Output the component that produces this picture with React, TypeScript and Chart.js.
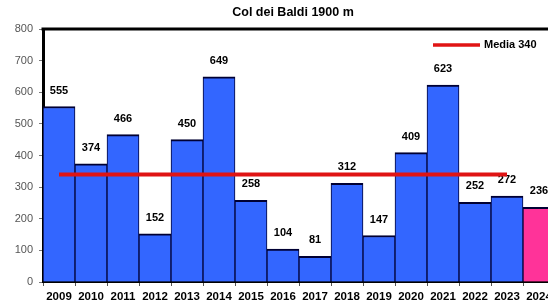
import React, { useEffect, useRef } from "react";
import { Chart, registerables } from "chart.js";

Chart.register(...registerables);

const years = ["2009", "2010", "2011", "2012", "2013", "2014", "2015", "2016", "2017", "2018", "2019", "2020", "2021", "2022", "2023", "2024"];
const snowValues = [555, 374, 466, 152, 450, 649, 258, 104, 81, 312, 147, 409, 623, 252, 272, 236];
const mediaValues = [340, 340, 340, 340, 340, 340, 340, 340, 340, 340, 340, 340, 340, 340, 340, null];
const mediaLabel = "Media 340";
const titleText = "Col dei Baldi 1900 m";

const BLUE = "#3366FF";
const PINK = "#FF3399";
const RED = "#E01414";
const FONT = '"Liberation Sans", Arial, sans-serif';

const barColors = snowValues.map((_, i) => (i === snowValues.length - 1 ? PINK : BLUE));

const valueLabels = {
  id: "valueLabels",
  afterDatasetDraw(chart: any, args: any) {
    if (args.index !== 0) return;
    const ctx = chart.ctx;
    ctx.save();
    ctx.font = `bold 11px ${FONT}`;
    ctx.fillStyle = "#000";
    ctx.textAlign = "center";
    ctx.textBaseline = "middle";
    args.meta.data.forEach((el: any, i: number) => {
      ctx.fillText(String(snowValues[i]), el.x, el.y - 16);
    });
    ctx.restore();
  },
};

const frameTitleLegend = {
  id: "frameTitleLegend",
  afterDraw(chart: any) {
    const { ctx, chartArea } = chart;
    ctx.save();
    ctx.strokeStyle = "#000";
    ctx.lineWidth = 3;
    ctx.beginPath();
    ctx.moveTo(chartArea.left - 1.5, chartArea.top);
    ctx.lineTo(chartArea.right, chartArea.top);
    ctx.stroke();
    // title
    ctx.fillStyle = "#000";
    ctx.font = `bold 12.5px ${FONT}`;
    ctx.textAlign = "center";
    ctx.textBaseline = "middle";
    ctx.fillText(titleText, chartArea.left + 250, chartArea.top - 16);
    // legend
    const ly = chartArea.top + 16;
    const lx = chartArea.right - 122;
    ctx.strokeStyle = RED;
    ctx.lineWidth = 3.5;
    ctx.beginPath();
    ctx.moveTo(lx, ly);
    ctx.lineTo(lx + 47, ly);
    ctx.stroke();
    ctx.font = `bold 11px ${FONT}`;
    ctx.textAlign = "left";
    ctx.fillText(mediaLabel, lx + 51, ly);
    ctx.restore();
  },
};

export default function App() {
  const ref = useRef<HTMLCanvasElement>(null);

  useEffect(() => {
    if (!ref.current) return;
    const chart = new Chart(ref.current, {
      type: "bar",
      data: {
        labels: years,
        datasets: [
          {
            type: "bar",
            label: "Neve",
            data: snowValues,
            backgroundColor: barColors,
            borderColor: "#000033",
            borderWidth: { top: 2, left: 1, right: 1, bottom: 0 },
            borderSkipped: false,
            barPercentage: 1,
            categoryPercentage: 1,
            order: 1,
          } as any,
          {
            type: "line",
            label: mediaLabel,
            data: mediaValues,
            borderColor: RED,
            backgroundColor: RED,
            borderWidth: 4,
            pointRadius: 0,
            fill: false,
            order: 0,
          } as any,
        ],
      },
      options: {
        animation: false,
        responsive: false,
        devicePixelRatio: 1,
        layout: { padding: { left: 0, right: 15, top: 29, bottom: 0 } },
        plugins: {
          title: { display: false },
          legend: { display: false },
          tooltip: { enabled: false },
        },
        scales: {
          x: {
            grid: { display: true, drawOnChartArea: false, drawTicks: true, tickLength: 4, color: "#555", offset: true },
            border: { display: true, color: "#000", width: 2 },
            ticks: {
              color: "#000",
              font: { family: FONT, size: 11.5, weight: "bold" },
              padding: 4,
              maxRotation: 0,
              autoSkip: false,
            },
            afterFit(scale: any) {
              scale.height = 22;
            },
          },
          y: {
            min: 0,
            max: 800,
            grid: { display: true, drawOnChartArea: false, drawTicks: true, tickLength: 4, color: "#777" },
            border: { display: true, color: "#000", width: 3 },
            ticks: {
              stepSize: 100,
              color: "#555",
              font: { family: FONT, size: 11 },
              padding: 6,
            },
            afterFit(scale: any) {
              scale.width = 43;
            },
          },
        },
      },
      plugins: [valueLabels, frameTitleLegend],
    });
    return () => chart.destroy();
  }, []);

  return (
    <div style={{ position: "fixed", left: 0, top: 0, width: 548, height: 304, overflow: "hidden", background: "#fff" }}>
      <canvas ref={ref} width={570} height={304} style={{ display: "block" }} />
    </div>
  );
}
